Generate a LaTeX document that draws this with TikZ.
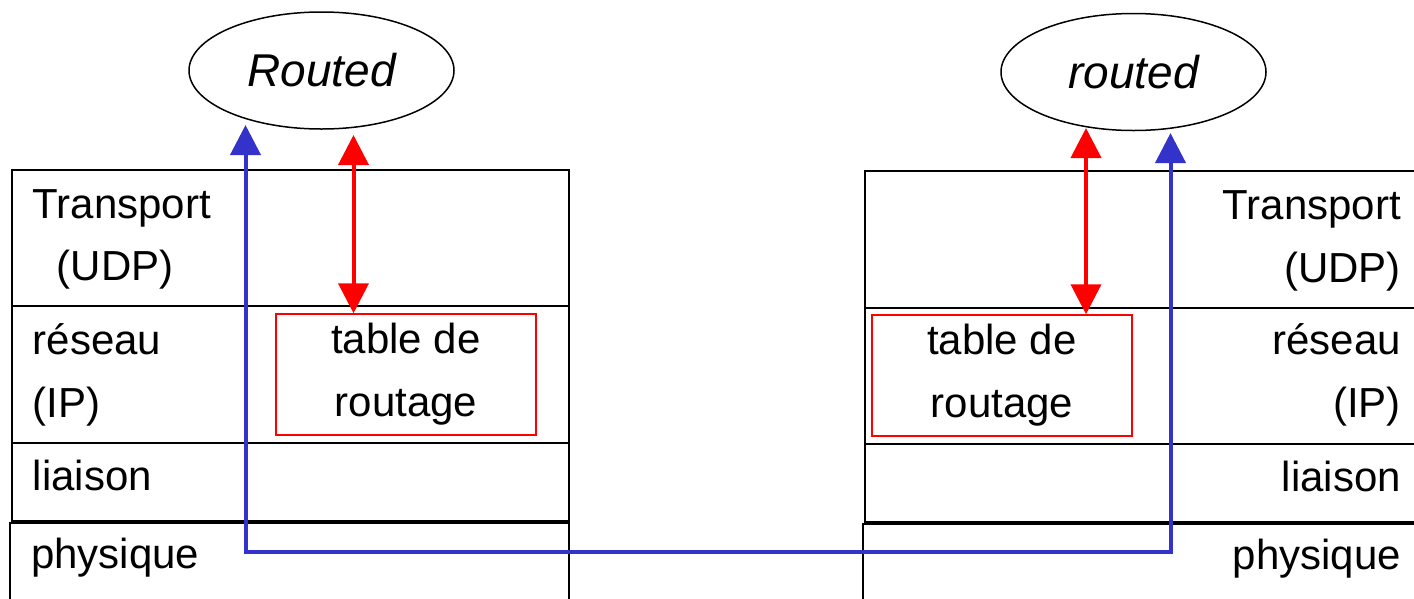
\documentclass[tikz,border=0pt]{standalone}
\usepackage{fontspec}
\setmainfont{Liberation Sans}
\usetikzlibrary{arrows.meta,shapes.geometric}
\definecolor{linkblue}{HTML}{3333CC}

\begin{document}
\begin{tikzpicture}[x=1pt, y=-1pt, >={Triangle[length=30pt,width=30pt]},
    layer/.style={draw, line width=2pt},
    lbl/.style={font=\fontsize{42}{63}\selectfont, inner sep=0pt},
    daemon/.style={draw, ellipse, line width=1.5pt, minimum width=265pt, minimum height=117pt,
                   inner sep=0pt, font=\fontsize{46}{50}\selectfont\itshape},
    tablebox/.style={draw=red, line width=1.5pt, minimum width=260pt, minimum height=121pt,
                     align=center, inner sep=0pt, font=\fontsize{42}{63}\selectfont}]
    \useasboundingbox (0,0) rectangle (1414,598);
    \clip (0,0) rectangle (1414,598);

    % Left stack
    \draw[layer] (12,170) rectangle (569,306);
    \draw[layer] (12,306) rectangle (569,443);
    \draw[layer] (12,443) rectangle (569,521);
    \draw[layer] (10,523) rectangle (569,640);
    \node[lbl, anchor=base west] (transL) at (32.5,218) {Transport};
    \node[lbl, anchor=base west] (udpL) at (56.5,280) {(UDP)};
    \node[lbl, anchor=base west] (reseauL) at (32.5,354) {réseau};
    \node[lbl, anchor=base west] (ipL) at (32.5,417) {(IP)};
    \node[lbl, anchor=base west] (liaisonL) at (32.5,490) {liaison};
    \node[lbl, anchor=base west] (physL) at (31,568) {physique};
    \node[tablebox] (tableL) at (406,374.5) {table de\\routage};

    % Right stack
    \draw[layer] (865,171) rectangle (1430,308);
    \draw[layer] (865,308) rectangle (1430,444);
    \draw[layer] (865,444) rectangle (1430,522);
    \draw[layer] (863,524) rectangle (1430,640);
    \node[lbl, anchor=base east] (transR) at (1401,219) {Transport};
    \node[lbl, anchor=base east] (udpR) at (1401,282) {(UDP)};
    \node[lbl, anchor=base east] (reseauR) at (1401,354) {réseau};
    \node[lbl, anchor=base east] (ipR) at (1401,417) {(IP)};
    \node[lbl, anchor=base east] (liaisonR) at (1401,491) {liaison};
    \node[lbl, anchor=base east] (physR) at (1401,569) {physique};
    \node[tablebox] (tableR) at (1002,375.5) {table de\\routage};

    % Daemons
    \node[daemon] (routedL) at (321.5,70.5) {Routed};
    \node[daemon] (routedR) at (1133.5,72) {routed};

    % Daemon <-> table
    \coordinate (redL) at (353.5,135);
    \coordinate (redR) at (1086,128);
    \draw[red, line width=4pt, <->] (redL) -- (redL |- tableL.north);
    \draw[red, line width=4pt, <->] (redR) -- (redR |- tableR.north);

    % Exchange over the wire
    \coordinate (linkL) at (245.5,125);
    \coordinate (linkR) at (1170.5,133);
    \coordinate (cable) at (700,552);
    \draw[linkblue, line width=4pt, <->] (linkL) |- (cable) -| (linkR);
\end{tikzpicture}
\end{document}
